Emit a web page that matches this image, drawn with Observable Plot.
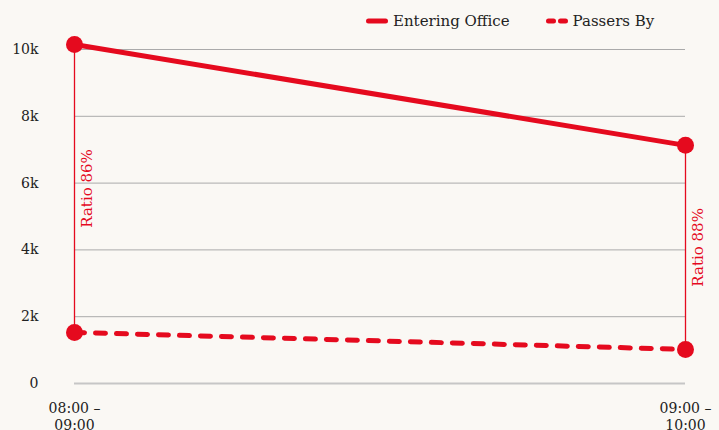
<!DOCTYPE html>
<html><head><meta charset="utf-8">
<script src="https://cdn.jsdelivr.net/npm/d3@7"></script>
<script src="https://cdn.jsdelivr.net/npm/@observablehq/plot@0.6"></script>
<style>
body{margin:0;background:#faf8f4;font-family:"DejaVu Serif",serif;}
#wrap{position:relative;width:719px;height:430px;overflow:hidden;}
#legend{position:absolute;top:12px;left:366px;display:flex;align-items:center;font-size:15px;color:#222;}
#legend .item{display:flex;align-items:center;}
#legend .item svg{margin-right:5px;}
#wrap > svg{position:absolute;top:0;left:0;}
</style></head><body><div id="wrap"><div id="legend"></div></div>
<script>
const periods = ["08:00 –\n09:00", "09:00 –\n10:00"];
const seriesNames = ["Entering Office", "Passers By"];
const entering = [10150, 7130];
const passers = [1530, 1020];
const ratioLabels = ["Ratio 86%", "Ratio 88%"];
const yTicks = [0, 2000, 4000, 6000, 8000, 10000];
const yTickLabels = ["0", "2k", "4k", "6k", "8k", "10k"];

const red = "#e50a1e";

const data = periods.flatMap((p, i) => [
  {period: p, series: seriesNames[0], value: entering[i]},
  {period: p, series: seriesNames[1], value: passers[i]}
]);
const ratios = periods.map((p, i) => ({period: p, top: entering[i], bottom: passers[i], label: ratioLabels[i]}));

const legend = document.getElementById("legend");
legend.innerHTML = `
<div class="item"><svg width="22" height="10"><line x1="2.5" y1="5" x2="19.5" y2="5" stroke="${red}" stroke-width="5" stroke-linecap="round"/></svg><span>${seriesNames[0]}</span></div>
<div class="item" style="margin-left:36px"><svg width="22" height="10"><line x1="2.5" y1="5" x2="19.5" y2="5" stroke="${red}" stroke-width="5" stroke-linecap="round" stroke-dasharray="5,7"/></svg><span>${seriesNames[1]}</span></div>`;

const chart = Plot.plot({
  width: 719, height: 430,
  marginLeft: 74, marginRight: 34, marginTop: 49, marginBottom: 47,
  style: {background: "transparent", fontFamily: "DejaVu Serif", fontSize: "14px", color: "#222", overflow: "visible"},
  x: {type: "point", domain: periods, padding: 0},
  y: {domain: [0, 10000]},
  marks: [
    Plot.ruleY(yTicks.filter(d => d > 0), {stroke: "#aaaaaa", strokeWidth: 1}),
    Plot.ruleY([0], {stroke: "#c6c6c6", strokeWidth: 2}),
    Plot.axisY({ticks: yTicks, tickSize: 0, tickPadding: 36, label: null, tickFormat: d => yTickLabels[yTicks.indexOf(d)], fontSize: 14}),
    Plot.axisX({tickSize: 0, tickPadding: 17, label: null, lineHeight: 1.25, fontSize: 14}),
    Plot.ruleX(ratios, {x: "period", y1: "bottom", y2: "top", stroke: red, strokeWidth: 1.3}),
    Plot.text(ratios, {x: "period", y: d => (d.top + d.bottom) / 2, text: "label", rotate: -90, dx: 13, fill: red, fontSize: 15}),
    Plot.line(data.filter(d => d.series === seriesNames[0]), {x: "period", y: "value", stroke: red, strokeWidth: 5}),
    Plot.line(data.filter(d => d.series === seriesNames[1]), {x: "period", y: "value", stroke: red, strokeWidth: 5, strokeDasharray: "10,11", strokeLinecap: "round"}),
    Plot.dot(data, {x: "period", y: "value", r: 8.5, fill: red})
  ]
});
document.getElementById("wrap").prepend(chart);
</script>
</body></html>
